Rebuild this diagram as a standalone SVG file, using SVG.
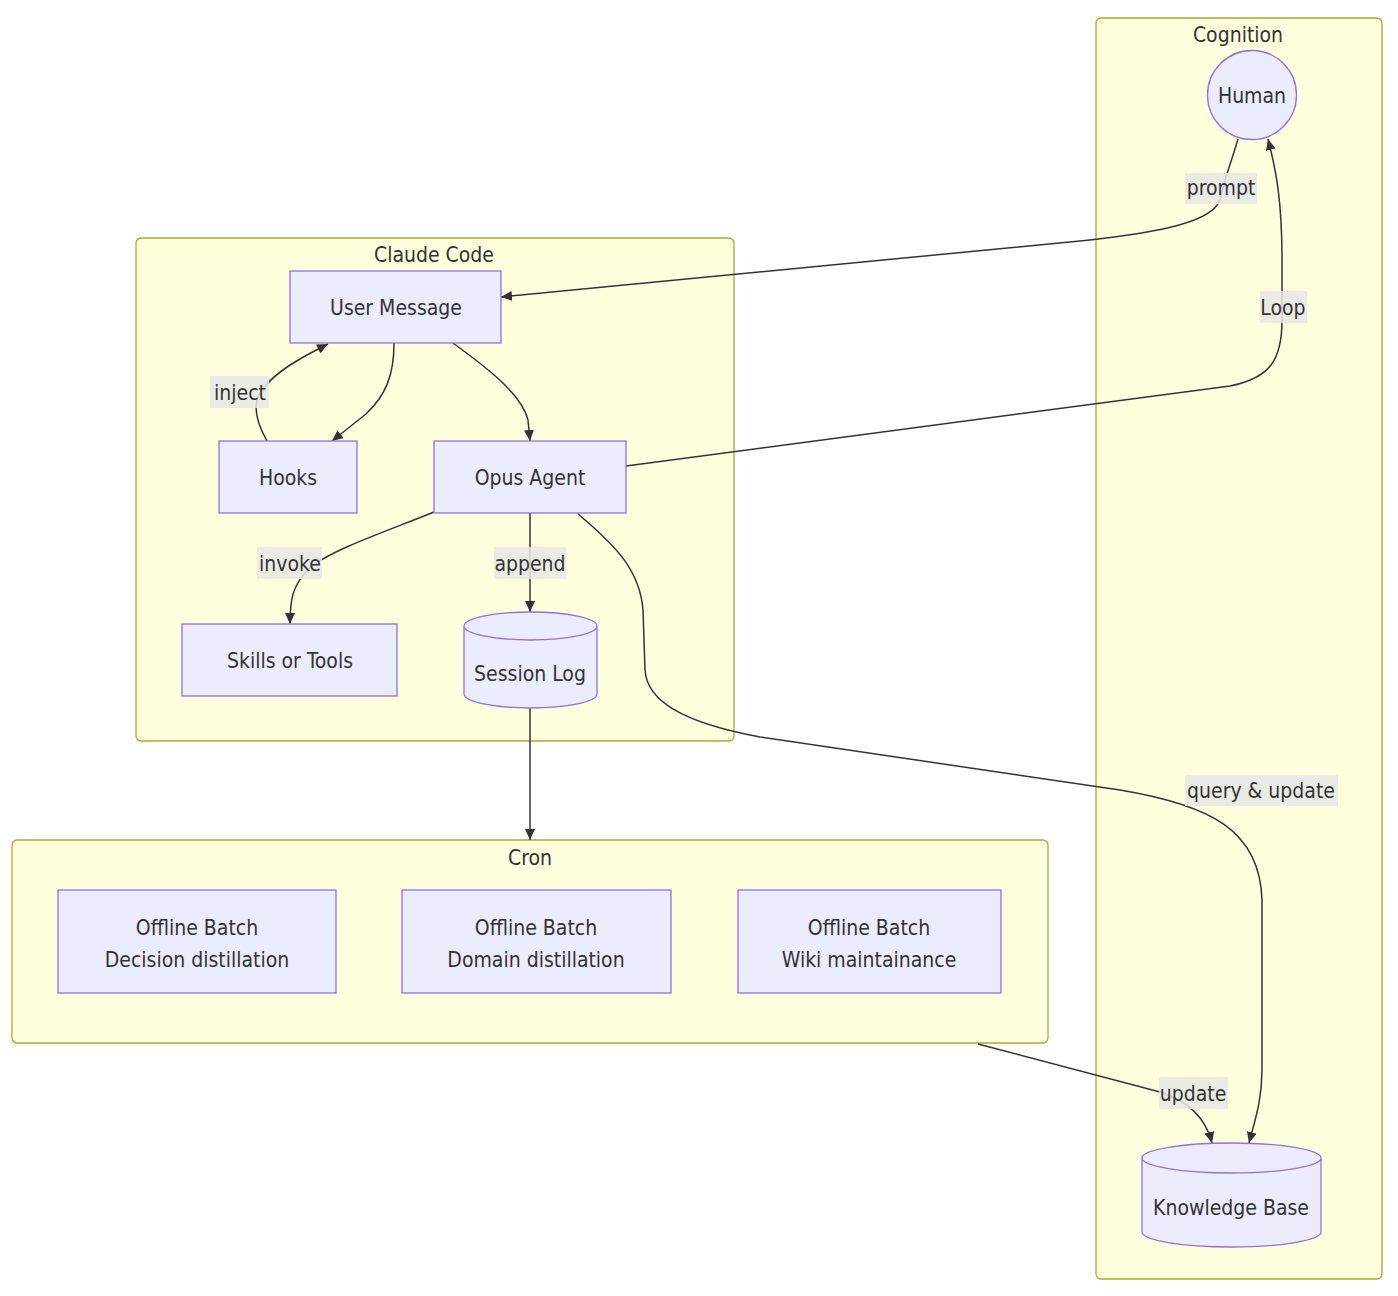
<svg xmlns="http://www.w3.org/2000/svg" width="1398" height="1296" viewBox="0 0 1398 1296">
<style>
text{font-family:"DejaVu Sans Condensed","DejaVu Sans",sans-serif;font-stretch:condensed;font-size:21px;fill:#333;text-anchor:middle}
.cluster{fill:#ffffde;stroke:#aaaa33;stroke-width:1.3}
.node{fill:#ececff;stroke:#9370db;stroke-width:1.3}
.edge{fill:none;stroke:#333;stroke-width:1.5}
.lbl{fill:#e8e8e8;fill-opacity:0.85}
</style>
<defs>
<marker id="arr" viewBox="0 0 11 10" refX="11" refY="5" markerWidth="11" markerHeight="10" markerUnits="userSpaceOnUse" orient="auto">
<path d="M0,0 L11,5 L0,10 z" fill="#333"/>
</marker>
</defs>
<rect width="1398" height="1296" fill="#ffffff"/>
<g id="clusters">
<g id="cluster-cognition"><rect class="cluster" x="1096" y="18" width="286" height="1261" rx="5"/><text x="1238" y="42">Cognition</text></g>
<g id="cluster-claude"><rect class="cluster" x="136" y="238" width="598" height="503" rx="5"/><text x="434" y="262">Claude Code</text></g>
<g id="cluster-cron"><rect class="cluster" x="12" y="840" width="1036" height="203" rx="5"/><text x="530" y="865">Cron</text></g>
</g>
<g id="connectors">
<path class="edge" d="M1238,139 C1232,160 1224,180 1220,200 C1212,222 1160,232 1090,240 L501,297" marker-end="url(#arr)"/>
<path class="edge" d="M626,466 L1230,386 C1270,378 1282,360 1282,320 L1282,260 C1282,200 1276,170 1268,139" marker-end="url(#arr)"/>
<path class="edge" d="M394,343 C394,375 386,395 366,414 L332,441" marker-end="url(#arr)"/>
<path class="edge" d="M267,441 C258,425 250,405 262,390 C275,372 300,358 328,344" marker-end="url(#arr)"/>
<path class="edge" d="M453,343 C490,370 522,395 528,420 L530,441" marker-end="url(#arr)"/>
<path class="edge" d="M434,512 C390,530 330,550 310,568 C292,585 290,600 290,624" marker-end="url(#arr)"/>
<path class="edge" d="M530,513 L530,612" marker-end="url(#arr)"/>
<path class="edge" d="M578,514 C615,545 640,570 643,610 L645,670 C647,700 680,722 760,737 L1120,790 C1210,805 1260,830 1262,900 L1262,1070 C1262,1100 1255,1120 1249,1143" marker-end="url(#arr)"/>
<path class="edge" d="M530,708 L530,840" marker-end="url(#arr)"/>
<path class="edge" d="M978,1044 L1160,1092 C1185,1100 1205,1115 1212,1143" marker-end="url(#arr)"/>
</g>
<g id="edge-labels">
<g><rect class="lbl" x="1185" y="173" width="72" height="31"/><text x="1221" y="195">prompt</text></g>
<g><rect class="lbl" x="1260" y="291" width="47" height="32"/><text x="1283" y="315">Loop</text></g>
<g><rect class="lbl" x="210" y="376" width="59" height="32"/><text x="240" y="400">inject</text></g>
<g><rect class="lbl" x="257" y="547" width="65" height="32"/><text x="290" y="571">invoke</text></g>
<g><rect class="lbl" x="494" y="547" width="72" height="32"/><text x="530" y="571">append</text></g>
<g><rect class="lbl" x="1185" y="775" width="153" height="31"/><text x="1261" y="798">query &amp; update</text></g>
<g><rect class="lbl" x="1159" y="1077" width="69" height="32"/><text x="1193" y="1101">update</text></g>
</g>
<g id="node-human"><circle class="node" cx="1252" cy="95" r="44.5"/><text x="1252" y="103">Human</text></g>
<g id="node-user-message"><rect class="node" x="290" y="271" width="211" height="72"/><text x="396" y="315">User Message</text></g>
<g id="node-hooks"><rect class="node" x="219" y="441" width="138" height="72"/><text x="288" y="485">Hooks</text></g>
<g id="node-opus"><rect class="node" x="434" y="441" width="192" height="72"/><text x="530" y="485">Opus Agent</text></g>
<g id="node-skills"><rect class="node" x="182" y="624" width="215" height="72"/><text x="290" y="668">Skills or Tools</text></g>
<g id="node-session-log"><path class="node" d="M464,626 a66.5,14 0 0 0 133,0 a66.5,14 0 0 0 -133,0 l0,68 a66.5,14 0 0 0 133,0 l0,-68"/><text x="530" y="681">Session Log</text></g>
<g id="node-batch-decision"><rect class="node" x="58" y="890" width="278" height="103"/><text x="197" y="935">Offline Batch</text><text x="197" y="967">Decision distillation</text></g>
<g id="node-batch-domain"><rect class="node" x="402" y="890" width="269" height="103"/><text x="536" y="935">Offline Batch</text><text x="536" y="967">Domain distillation</text></g>
<g id="node-batch-wiki"><rect class="node" x="738" y="890" width="263" height="103"/><text x="869" y="935">Offline Batch</text><text x="869" y="967">Wiki maintainance</text></g>
<g id="node-knowledge-base"><path class="node" d="M1142,1158 a89.5,15 0 0 0 179,0 a89.5,15 0 0 0 -179,0 l0,74 a89.5,15 0 0 0 179,0 l0,-74"/><text x="1231" y="1215">Knowledge Base</text></g>
</svg>
